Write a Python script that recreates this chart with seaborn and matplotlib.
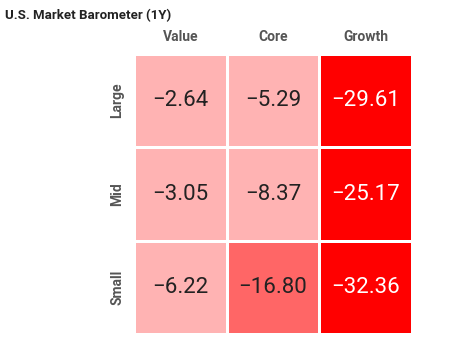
import matplotlib
matplotlib.use("Agg")
import matplotlib.pyplot as plt
import seaborn as sns
import numpy as np
import pandas as pd
from matplotlib.colors import ListedColormap, BoundaryNorm

rows = ["Large", "Mid", "Small"]
cols = ["Value", "Core", "Growth"]
large = [-2.64, -5.29, -29.61]
mid = [-3.05, -8.37, -25.17]
small = [-6.22, -16.80, -32.36]
title = "U.S. Market Barometer (1Y)"

df = pd.DataFrame([large, mid, small], index=rows, columns=cols)

sns.set_style("white")
fam = ["Roboto", "DejaVu Sans"]
plt.rcParams['font.family'] = fam

cmap = ListedColormap(["#FF0000", "#FF6666", "#FFB3B3"])
norm = BoundaryNorm([-100, -20, -10, 0], 3)

fig = plt.figure(figsize=(4.53, 3.37), dpi=100)
ax = fig.add_axes([134/453, 1-334/337, (412-134)/453, (334-54)/337])
sns.heatmap(df, ax=ax, cmap=cmap, norm=norm, cbar=False, linewidths=1,
            linecolor="white", annot=False)

for i, r in enumerate(rows):
    for j, c in enumerate(cols):
        v = df.loc[r, c]
        color = "white" if v <= -20 else "#222222"
        ax.text(j + 0.5, i + 0.5, f"\u2212{abs(v):.2f}", ha="center", va="center",
                fontsize=16, color=color)

ax.xaxis.tick_top()
ax.set_xticklabels(cols, fontsize=10, fontweight="bold", color="#555555")
ax.set_yticklabels(rows, fontsize=10, fontweight="bold", color="#555555", rotation=90, va="center")
ax.tick_params(length=0, pad=7)
ax.set_xlabel("")
ax.set_ylabel("")

fig.text(5/453, 1-16/337, title, fontsize=9.5, fontweight="bold", color="#222222",
         ha="left", va="center")

fig.savefig("out.png", dpi=100)
